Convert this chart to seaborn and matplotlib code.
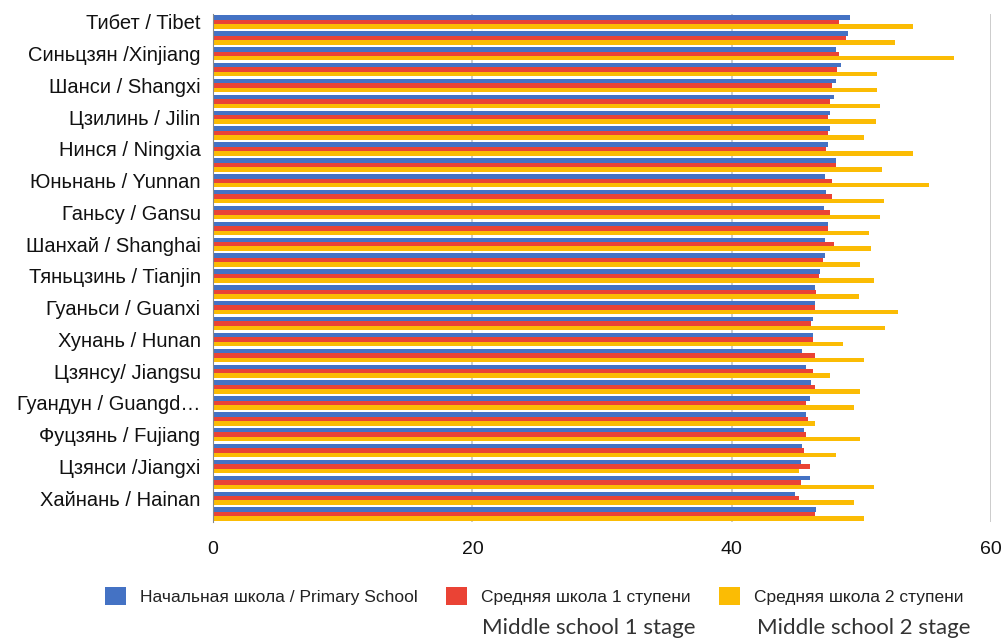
import pandas as pd
import seaborn as sns
import matplotlib.pyplot as plt

# regions, top to bottom (only every other one is labelled on the chart)
regions = [
    "Тибет / Tibet", "Цинхай / Qinghai",
    "Синьцзян /Xinjiang", "Внутренняя Монголия / Inner Mongolia",
    "Шанси / Shangxi", "Шэньси / Shaanxi",
    "Цзилинь / Jilin", "Хэйлунцзян / Heilongjiang",
    "Нинся / Ningxia", "Гуйчжоу / Guizhou",
    "Юньнань / Yunnan", "Сычуань / Sichuan",
    "Ганьсу / Gansu", "Пекин / Beijing",
    "Шанхай / Shanghai", "Ляонин / Liaoning",
    "Тяньцзинь / Tianjin", "Хэбэй / Hebei",
    "Гуаньси / Guanxi", "Чунцин / Chongqing",
    "Хунань / Hunan", "Хубэй / Hubei",
    "Цзянсу/ Jiangsu", "Чжэцзян / Zhejiang",
    "Гуандун / Guangd…", "Шаньдун / Shandong",
    "Фуцзянь / Fujiang", "Хэнань / Henan",
    "Цзянси /Jiangxi", "Аньхой / Anhui",
    "Хайнань / Hainan", "Китай / China",
]

levels = ["Начальная школа / Primary School",
          "Средняя школа 1 ступени",
          "Средняя школа 2 ступени"]

primary = [49.1, 49.0, 48.0, 48.4, 48.0, 47.9, 47.6, 47.6, 47.4, 48.0, 47.2,
           47.3, 47.1, 47.4, 47.2, 47.2, 46.8, 46.4, 46.4, 46.3, 46.3, 45.4,
           45.7, 46.1, 46.0, 45.7, 45.6, 45.4, 45.3, 46.0, 44.9, 46.5]
middle1 = [48.3, 48.8, 48.3, 48.1, 47.7, 47.6, 47.4, 47.4, 47.3, 48.0, 47.7,
           47.7, 47.6, 47.4, 47.9, 47.0, 46.7, 46.5, 46.4, 46.1, 46.3, 46.4,
           46.3, 46.4, 45.7, 45.9, 45.7, 45.6, 46.0, 45.3, 45.2, 46.4]
middle2 = [54.0, 52.6, 57.1, 51.2, 51.2, 51.4, 51.1, 50.2, 54.0, 51.6, 55.2,
           51.7, 51.4, 50.6, 50.7, 49.9, 51.0, 49.8, 52.8, 51.8, 48.6, 50.2,
           47.6, 49.9, 49.4, 46.4, 49.9, 48.0, 45.2, 51.0, 49.4, 50.2]

colors = ["#4472C4", "#EA4335", "#FBBC04"]

df = pd.DataFrame({"region": regions * 3,
                   "level": [levels[0]] * 32 + [levels[1]] * 32 + [levels[2]] * 32,
                   "value": primary + middle1 + middle2})

sns.set_style("white")
plt.rcParams["font.family"] = ["Liberation Sans", "DejaVu Sans"]

fig = plt.figure(figsize=(10.04, 6.41), dpi=100)
ax = fig.add_axes([0.2122, 0.1856, 0.775, 0.7925])

sns.barplot(data=df, y="region", x="value", hue="level", order=regions,
            hue_order=levels, palette=colors, orient="h", width=0.84,
            gap=0, saturation=1, linewidth=0, ax=ax)

ax.set_xlim(0, 60)
ax.set_xticks([0, 20, 40, 60])
ax.set_yticks(range(0, 32, 2))
ax.set_yticklabels(regions[::2])
ax.set_xlabel("")
ax.set_ylabel("")
ax.grid(axis="x", color="#c8c8c8", linewidth=1.3)
ax.set_axisbelow(True)
for s in ["top", "right", "bottom"]:
    ax.spines[s].set_visible(False)
ax.spines["left"].set_color("#888888")
ax.tick_params(axis="x", length=0, pad=14, labelsize=14, labelcolor="#111111")
ax.tick_params(axis="y", length=0, pad=9, labelsize=14.5, labelcolor="#111111")

handles, labels = ax.get_legend_handles_labels()
ax.get_legend().remove()
fig.legend(handles, labels, loc="center", bbox_to_anchor=(0.532, 0.070),
           ncol=3, frameon=False, fontsize=12.5, handlelength=1.25,
           handleheight=1.25, handletextpad=0.8, columnspacing=1.6,
           labelcolor="#222222")

fig.text(0.480, 0.020, "Middle school 1 stage", fontsize=16,
         family=["Lato", "DejaVu Sans"], color="#333333", va="center")
fig.text(0.754, 0.020, "Middle school 2 stage", fontsize=16,
         family=["Lato", "DejaVu Sans"], color="#333333", va="center")

fig.savefig("out.png", dpi=100)
